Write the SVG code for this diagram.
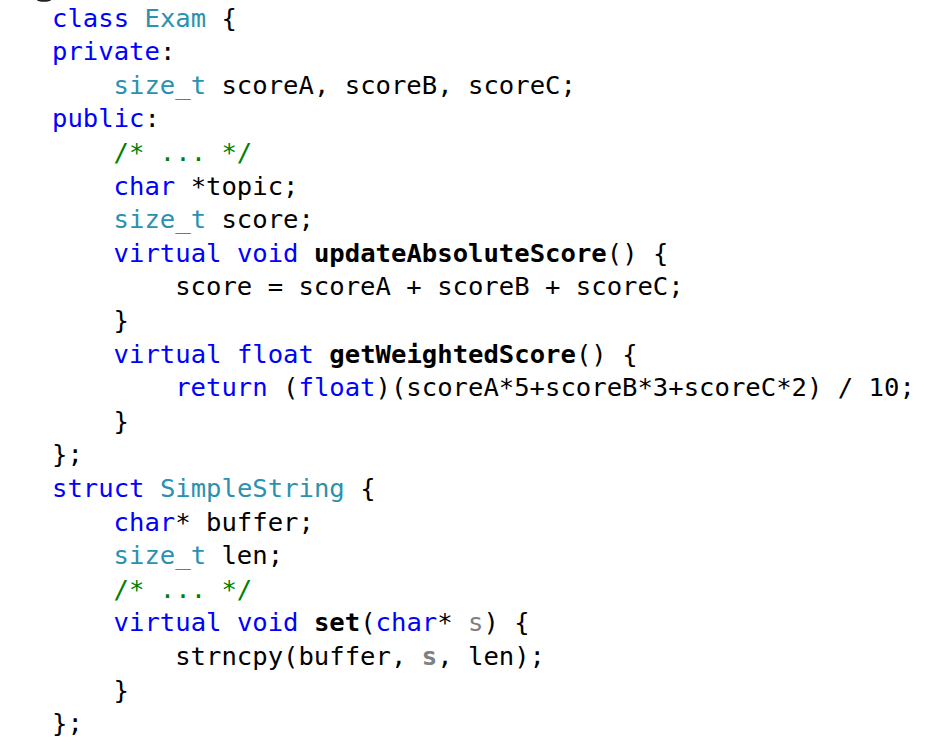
<svg xmlns="http://www.w3.org/2000/svg" width="942" height="749" viewBox="0 0 942 749">
<style>
text{font-family:"DejaVu Sans Mono","Liberation Mono",monospace;font-size:25.6px;fill:#000;white-space:pre}
.k{fill:#0000ff}
.t{fill:#2b91af}
.c{fill:#008000}
.p{fill:#808080}
.b{font-weight:bold}
</style>
<rect width="942" height="749" fill="#fff"/>
<ellipse cx="44" cy="0" rx="7" ry="1.8" fill="#222"/>
<g id="code">
<text x="52" y="26.5" xml:space="preserve"><tspan class="k">class</tspan> <tspan class="t">Exam</tspan> {</text>
<text x="52" y="60.1" xml:space="preserve"><tspan class="k">private</tspan>:</text>
<text x="113.6" y="93.7" xml:space="preserve"><tspan class="t">size_t</tspan> scoreA, scoreB, scoreC;</text>
<text x="52" y="127.3" xml:space="preserve"><tspan class="k">public</tspan>:</text>
<text x="113.6" y="160.9" class="c" xml:space="preserve">/* ... */</text>
<text x="113.6" y="194.5" xml:space="preserve"><tspan class="k">char</tspan> *topic;</text>
<text x="113.6" y="228.1" xml:space="preserve"><tspan class="t">size_t</tspan> score;</text>
<text x="113.6" y="261.7" xml:space="preserve"><tspan class="k">virtual</tspan> <tspan class="k">void</tspan> <tspan class="b">updateAbsoluteScore</tspan>() {</text>
<text x="175.2" y="295.3" xml:space="preserve">score = scoreA + scoreB + scoreC;</text>
<text x="113.6" y="328.9" xml:space="preserve">}</text>
<text x="113.6" y="362.5" xml:space="preserve"><tspan class="k">virtual</tspan> <tspan class="k">float</tspan> <tspan class="b">getWeightedScore</tspan>() {</text>
<text x="175.2" y="396.1" xml:space="preserve"><tspan class="k">return</tspan> (<tspan class="k">float</tspan>)(scoreA*5+scoreB*3+scoreC*2) / 10;</text>
<text x="113.6" y="429.7" xml:space="preserve">}</text>
<text x="52" y="463.3" xml:space="preserve">};</text>
<text x="52" y="496.9" xml:space="preserve"><tspan class="k">struct</tspan> <tspan class="t">SimpleString</tspan> {</text>
<text x="113.6" y="530.5" xml:space="preserve"><tspan class="k">char</tspan>* buffer;</text>
<text x="113.6" y="564.1" xml:space="preserve"><tspan class="t">size_t</tspan> len;</text>
<text x="113.6" y="597.7" class="c" xml:space="preserve">/* ... */</text>
<text x="113.6" y="631.3" xml:space="preserve"><tspan class="k">virtual</tspan> <tspan class="k">void</tspan> <tspan class="b">set</tspan>(<tspan class="k">char</tspan>* <tspan class="p">s</tspan>) {</text>
<text x="175.2" y="664.9" xml:space="preserve">strncpy(buffer, <tspan class="p b">s</tspan>, len);</text>
<text x="113.6" y="698.5" xml:space="preserve">}</text>
<text x="52" y="732.1" xml:space="preserve">};</text>
</g>
</svg>
